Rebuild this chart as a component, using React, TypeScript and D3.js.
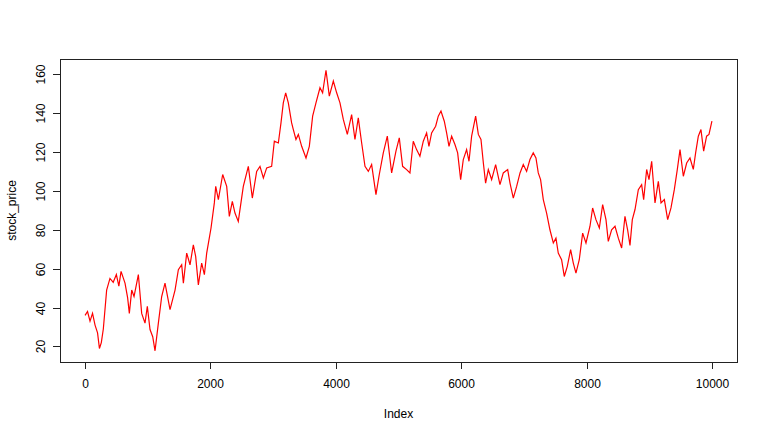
import React, { useEffect, useRef } from "react";
import * as d3 from "d3";

const sampleIndex: number[] = [
  1, 40, 80, 120, 160, 200, 230, 260, 292, 345, 398, 450, 500, 540, 575, 638, 680, 707, 745, 782,
  851, 904, 957, 994, 1037, 1080, 1117, 1170, 1223, 1276, 1356, 1436, 1489, 1542, 1569, 1622, 1675, 1728, 1765, 1808,
  1861, 1904, 1941, 2010, 2063, 2085, 2127, 2196, 2260, 2302, 2350, 2392, 2445, 2525, 2605, 2669, 2738, 2791, 2845, 2898,
  2977, 3020, 3084, 3126, 3163, 3201, 3243, 3296, 3323, 3365, 3403, 3456, 3525, 3578, 3631, 3684, 3748, 3790, 3844, 3897,
  3961, 4014, 4067, 4120, 4184, 4253, 4306, 4359, 4413, 4466, 4519, 4572, 4641, 4694, 4758, 4822, 4891, 4960, 5013, 5066,
  5130, 5183, 5236, 5289, 5342, 5396, 5449, 5486, 5529, 5593, 5635, 5678, 5731, 5768, 5806, 5848, 5901, 5944, 5992, 6034,
  6087, 6125, 6167, 6231, 6274, 6316, 6354, 6390, 6433, 6486, 6550, 6619, 6672, 6742, 6779, 6832, 6885, 6939, 6991, 7044,
  7097, 7150, 7193, 7230, 7267, 7310, 7363, 7416, 7470, 7512, 7549, 7602, 7645, 7693, 7746, 7789, 7831, 7884, 7938, 7991,
  8055, 8097, 8150, 8204, 8257, 8310, 8347, 8400, 8454, 8507, 8560, 8613, 8655, 8693, 8730, 8773, 8826, 8879, 8911, 8959,
  8996, 9039, 9092, 9145, 9188, 9241, 9294, 9347, 9400, 9448, 9491, 9544, 9597, 9650, 9703, 9740, 9783, 9825, 9868, 9915,
  9953, 10000,
];

// stock_price values read at those indices
const stockPrice: number[] = [
  36, 38, 33, 37, 31, 27, 19, 22, 29, 49, 55, 53, 57, 51, 58.6, 52.6, 45, 37, 49, 45.7,
  57, 37, 32, 40.6, 28.7, 25, 17.8, 32, 45.7, 52.6, 38.9, 49, 59.5, 62, 52.6, 68, 62, 72.3, 66.3, 51.7,
  62.9, 56.9, 68, 80.9, 93.8, 102.3, 95.5, 108.4, 102.3, 86.9, 94.6, 88.6, 84.3, 102.3, 112.6, 96.3, 110, 112.6, 106.6, 111.8,
  112.6, 125.5, 124.6, 134.9, 145.2, 150.4, 145.2, 134.9, 131.5, 126.4, 129, 122.9, 116.9, 122.9, 138.4, 145.2, 153, 150.4, 162, 148.7,
  156.4, 150.4, 145.2, 136.7, 129, 139.2, 126.4, 137.5, 124.6, 112.6, 110, 113.5, 98.1, 108.4, 119.5, 128.1, 109.2, 120.4, 127.2, 112.6,
  110.9, 109.2, 125.5, 121.2, 117.8, 125.5, 129.8, 122.9, 129.8, 133.2, 138.4, 141, 135.8, 129.8, 122.9, 128.1, 123.8, 119.5, 105.8, 116.1,
  121.2, 115.2, 128.1, 138.4, 129, 126.4, 114.3, 104, 110.9, 105.8, 113.5, 103.2, 109.2, 110.9, 104, 96.3, 102.3, 109.2, 113.5, 110,
  116.1, 119.5, 116.9, 109.2, 105.8, 95.5, 88.6, 80, 73.2, 75.7, 68, 64.6, 56, 61.2, 69.8, 62.9, 57.7, 64.6, 78.3, 73.2,
  81.8, 91.2, 85.2, 80.9, 92.9, 85.2, 74, 80, 81.8, 75.7, 70.6, 86.9, 80, 72, 85.2, 90.4, 100.6, 103.2, 95.5, 111,
  105.8, 115.2, 93.8, 104.9, 93.8, 95.5, 85.2, 91.2, 100.6, 111, 121.2, 107.5, 114.3, 116.9, 111, 119.5, 128.1, 131.5, 120.4, 128.1,
  129, 135.8,
];

const xTicks: number[] = [0, 2000, 4000, 6000, 8000, 10000];
const yTicks: number[] = [20, 40, 60, 80, 100, 120, 140, 160];

const W = 768;
const H = 438;
const box = { left: 60, right: 737, top: 59, bottom: 362 };
const FONT = "'Liberation Sans', Arial, sans-serif";

export default function App() {
  const ref = useRef<SVGSVGElement | null>(null);

  useEffect(() => {
    document.body.style.margin = "0";
    const svg = d3.select(ref.current);
    svg.selectAll("*").remove();

    const xExt = [1, 10000];
    const xPad = (xExt[1] - xExt[0]) * 0.04;
    const x = d3
      .scaleLinear()
      .domain([xExt[0] - xPad, xExt[1] + xPad])
      .range([box.left, box.right]);
    const yExt = d3.extent(stockPrice) as [number, number];
    const yPad = (yExt[1] - yExt[0]) * 0.04;
    const y = d3
      .scaleLinear()
      .domain([yExt[0] - yPad, yExt[1] + yPad])
      .range([box.bottom, box.top]);

    svg.append("rect").attr("width", W).attr("height", H).attr("fill", "#fff");

    const pts = sampleIndex.map((d, i) => [d, stockPrice[i]] as [number, number]);
    const line = d3
      .line<[number, number]>()
      .x((d) => x(d[0]))
      .y((d) => y(d[1]));
    svg
      .append("path")
      .attr("d", line(pts) as string)
      .attr("fill", "none")
      .attr("stroke", "#ff0000")
      .attr("stroke-width", 1.2)
      .attr("stroke-linejoin", "miter");

    // box
    svg
      .append("rect")
      .attr("x", box.left + 0.5)
      .attr("y", box.top + 0.5)
      .attr("width", box.right - box.left)
      .attr("height", box.bottom - box.top)
      .attr("fill", "none")
      .attr("stroke", "#222")
      .attr("stroke-width", 1);

    // x axis
    const gx = svg.append("g");
    gx.append("line")
      .attr("x1", Math.round(x(xTicks[0])) + 0.5)
      .attr("x2", Math.round(x(xTicks[xTicks.length - 1])) + 0.5)
      .attr("y1", box.bottom + 0.5)
      .attr("y2", box.bottom + 0.5)
      .attr("stroke", "#222");
    xTicks.forEach((t) => {
      const px = Math.round(x(t)) + 0.5;
      gx.append("line")
        .attr("x1", px)
        .attr("x2", px)
        .attr("y1", box.bottom)
        .attr("y2", box.bottom + 7)
        .attr("stroke", "#222");
      gx.append("text")
        .attr("x", px)
        .attr("y", box.bottom + 26)
        .attr("text-anchor", "middle")
        .attr("font-family", FONT)
        .attr("font-size", 12)
        .attr("fill", "#000")
        .text(String(t));
    });
    svg
      .append("text")
      .attr("x", (box.left + box.right) / 2)
      .attr("y", box.bottom + 56)
      .attr("text-anchor", "middle")
      .attr("font-family", FONT)
      .attr("font-size", 12)
      .attr("fill", "#000")
      .text("Index");

    // y axis
    const gy = svg.append("g");
    gy.append("line")
      .attr("x1", box.left + 0.5)
      .attr("x2", box.left + 0.5)
      .attr("y1", Math.round(y(yTicks[0])) + 0.5)
      .attr("y2", Math.round(y(yTicks[yTicks.length - 1])) + 0.5)
      .attr("stroke", "#222");
    yTicks.forEach((t) => {
      const py = Math.round(y(t)) + 0.5;
      gy.append("line")
        .attr("x1", box.left - 7)
        .attr("x2", box.left)
        .attr("y1", py)
        .attr("y2", py)
        .attr("stroke", "#222");
      gy.append("text")
        .attr("transform", `translate(${box.left - 15},${py}) rotate(-90)`)
        .attr("text-anchor", "middle")
        .attr("font-family", FONT)
        .attr("font-size", 12)
        .attr("fill", "#000")
        .text(String(t));
    });
    svg
      .append("text")
      .attr("transform", `translate(${box.left - 44},${(box.top + box.bottom) / 2}) rotate(-90)`)
      .attr("text-anchor", "middle")
      .attr("font-family", FONT)
      .attr("font-size", 12)
      .attr("fill", "#000")
      .text("stock_price");
  }, []);

  return <svg ref={ref} width={W} height={H} style={{ display: "block" }} />;
}
